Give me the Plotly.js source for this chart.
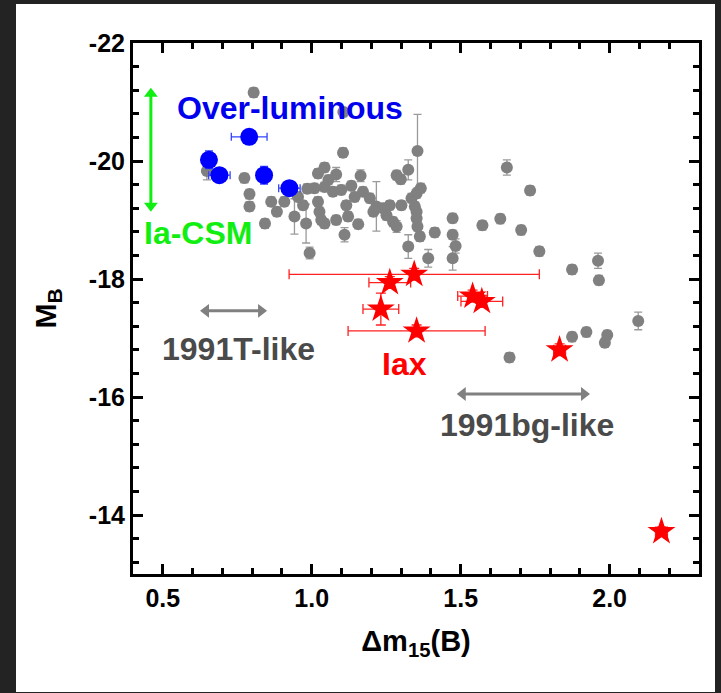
<!DOCTYPE html>
<html>
<head>
<meta charset="utf-8">
<script src="https://cdn.plot.ly/plotly-3.0.1.min.js"></script>
<style>
  html, body { margin: 0; padding: 0; background: #232323; width: 721px; height: 693px; overflow: hidden; }
  #chart { position: absolute; left: 16px; top: 4px; width: 699px; height: 688px; background: #fff; }
</style>
</head>
<body>
<div id="chart"></div>
<script>
// ---- Data ----
const grayX = [0.805,1.106,1.355,1.105,0.648,0.774,0.791,0.791,0.843,0.864,0.883,0.908,0.942,0.981,0.993,0.954,1.009,1.021,1.043,1.043,1.071,1.082,1.099,1.026,1.032,1.043,1.082,1.122,1.110,1.156,1.144,1.164,1.172,1.195,1.217,1.240,1.262,1.251,1.273,1.285,1.285,1.299,1.324,1.301,1.335,1.352,1.366,1.346,1.352,1.352,1.355,1.363,1.413,1.324,1.391,1.473,1.473,1.483,1.473,1.573,1.633,1.703,1.764,1.655,1.733,1.874,1.961,1.964,2.096,1.874,1.922,1.992,1.984,1.664,1.021,0.971,1.056,1.116,1.207,1.133,0.985];
const grayY = [-21.16,-20.83,-20.17,-20.14,-19.83,-19.71,-19.44,-19.23,-18.94,-19.31,-19.14,-19.31,-19.06,-18.94,-18.44,-19.39,-19.54,-19.79,-19.89,-19.56,-19.48,-19.77,-19.51,-19.14,-19.00,-18.94,-19.00,-19.06,-18.75,-18.93,-19.39,-19.75,-19.48,-19.37,-19.23,-19.20,-19.25,-19.08,-18.97,-18.89,-19.76,-19.69,-19.85,-19.25,-19.37,-19.45,-19.54,-19.23,-19.14,-19.03,-18.89,-18.72,-18.79,-18.55,-18.35,-19.03,-18.75,-18.56,-18.35,-18.91,-19.02,-18.83,-18.47,-19.89,-19.50,-18.16,-18.31,-17.98,-17.29,-17.02,-17.10,-17.05,-16.92,-16.67,-19.31,-19.25,-19.68,-19.25,-19.14,-19.58,-19.53];
const grayErrY = [0.08,0.08,0.62,0.08,0.15,0.08,0.08,0.08,0.08,0.08,0.08,0.08,0.30,0.33,0.10,0.08,0.08,0.08,0.08,0.08,0.08,0.12,0.08,0.08,0.08,0.08,0.08,0.08,0.12,0.08,0.08,0.10,0.08,0.08,0.42,0.08,0.08,0.08,0.08,0.10,0.08,0.08,0.17,0.08,0.08,0.08,0.08,0.08,0.08,0.08,0.08,0.08,0.08,0.20,0.15,0.08,0.08,0.12,0.20,0.08,0.08,0.08,0.08,0.13,0.08,0.08,0.13,0.08,0.15,0.08,0.08,0.08,0.08,0.08,0.08,0.08,0.08,0.08,0.08,0.08,0.08];

const blueX = [0.655,0.690,0.790,0.840,0.925];
const blueY = [-20.02,-19.76,-20.41,-19.76,-19.54];
const blueErrX = [0.02,0.036,0.06,0.02,0.036];
const blueErrY = [0.15,0.08,0.05,0.15,0.05];

const redX = [1.344,1.262,1.232,1.352,1.540,1.571,1.832,2.174];
const redY = [-18.08,-17.94,-17.49,-17.12,-17.71,-17.62,-16.80,-13.72];
const redErrX = [0.42,0.07,0.06,0.23,0.05,0.07,0.02,0.02];
const redErrY = [0.10,0.10,0.27,0.10,0.10,0.10,0.10,0.08];

const xTickVals = [0.5,1.0,1.5,2.0];
const xTickText = ["0.5","1.0","1.5","2.0"];
const xMinorVals = [0.4,0.6,0.7,0.8,0.9,1.1,1.2,1.3,1.4,1.6,1.7,1.8,1.9,2.1,2.2];
const yTickVals = [-22,-20,-18,-16,-14];
const yTickText = ["-22","-20","-18","-16","-14"];
const yMinorVals = [-21.6,-21.2,-20.8,-20.4,-19.6,-19.2,-18.8,-18.4,-17.6,-17.2,-16.8,-16.4,-15.6,-15.2,-14.8,-14.4,-13.6,-13.2];

const labels = ["Over-luminous","Ia-CSM","1991T-like","Iax","1991bg-like"];

// ---- Traces ----
const FONT = "Liberation Sans, Arial, sans-serif";

function arrowTrace(xs, ys, symbols, color) {
  return {x: xs, y: ys, type: 'scatter', mode: 'lines+markers', hoverinfo: 'skip',
          line: {color: color, width: 3},
          marker: {symbol: symbols, size: 12, color: color, line: {width: 0}}};
}

const traces = [
  arrowTrace([0.46, 0.46], [-19.24, -21.14], ['triangle-down', 'triangle-up'], '#11ee11'),
  arrowTrace([0.645, 0.830], [-17.46, -17.46], ['triangle-left', 'triangle-right'], '#808080'),
  arrowTrace([1.507, 1.914], [-16.05, -16.05], ['triangle-left', 'triangle-right'], '#808080'),
  {
    x: grayX, y: grayY, type: 'scatter', mode: 'markers',
    marker: {color: '#808080', size: 12},
    error_y: {type: 'data', array: grayErrY, visible: true, color: '#9a9a9a', thickness: 1.3, width: 4}
  },
  {
    x: blueX, y: blueY, type: 'scatter', mode: 'markers',
    marker: {color: '#0000ff', size: 18},
    error_x: {type: 'data', array: blueErrX, visible: true, color: '#3344ff', thickness: 1.3, width: 4},
    error_y: {type: 'data', array: blueErrY, visible: true, color: '#3344ff', thickness: 1.3, width: 4}
  },
  {
    x: redX, y: redY, type: 'scatter', mode: 'markers',
    marker: {color: '#ff0000', size: 21, symbol: 'star'},
    error_x: {type: 'data', array: redErrX, visible: true, color: '#ff2020', thickness: 1.3, width: 5},
    error_y: {type: 'data', array: redErrY, visible: true, color: '#ff2020', thickness: 1.3, width: 5}
  }
];

function label(txt, x, y, color) {
  return {x: x, y: y, xref: 'x', yref: 'y', text: txt, showarrow: false,
          xanchor: 'center', yanchor: 'middle',
          font: {family: FONT, size: 32, color: color, weight: 'bold'}};
}

const annotations = [
  label(labels[0], 0.928, -20.90, '#0000ee'),
  label(labels[1], 0.618, -18.78, '#11ee11'),
  label(labels[2], 0.753, -16.81, '#4a4a4a'),
  label(labels[3], 1.311, -16.56, '#ff0000'),
  label(labels[4], 1.722, -15.53, '#4a4a4a')
];

const axisCommon = {
  showline: true, linecolor: '#000000', linewidth: 3, mirror: 'ticks',
  ticks: 'inside', ticklen: 10, tickwidth: 3, tickcolor: '#000000',
  showgrid: false, zeroline: false,
  tickfont: {family: FONT, size: 25, color: '#000000', weight: 'bold'},
  tickmode: 'array'
};

const layout = {
  width: 699, height: 688,
  margin: {l: 117, r: 16, t: 39, b: 118},
  paper_bgcolor: '#ffffff', plot_bgcolor: '#ffffff',
  showlegend: false,
  xaxis: Object.assign({}, axisCommon, {
    range: [0.4, 2.3],
    tickvals: xTickVals, ticktext: xTickText,
    minor: {tickmode: 'array', tickvals: xMinorVals, ticks: 'inside', ticklen: 6, tickwidth: 3, tickcolor: '#000000'},
    title: {text: 'Δm<sub>15</sub>(B)', standoff: 20, font: {family: FONT, size: 29, color: '#000', weight: 'bold'}}
  }),
  yaxis: Object.assign({}, axisCommon, {
    range: [-13, -22],
    tickvals: yTickVals, ticktext: yTickText,
    minor: {tickmode: 'array', tickvals: yMinorVals, ticks: 'inside', ticklen: 6, tickwidth: 3, tickcolor: '#000000'},
    title: {text: 'M<sub>B</sub>', standoff: 24, font: {family: FONT, size: 30, color: '#000', weight: 'bold'}}
  }),
  annotations: annotations
};

Plotly.newPlot('chart', traces, layout, {displayModeBar: false});
</script>
</body>
</html>
